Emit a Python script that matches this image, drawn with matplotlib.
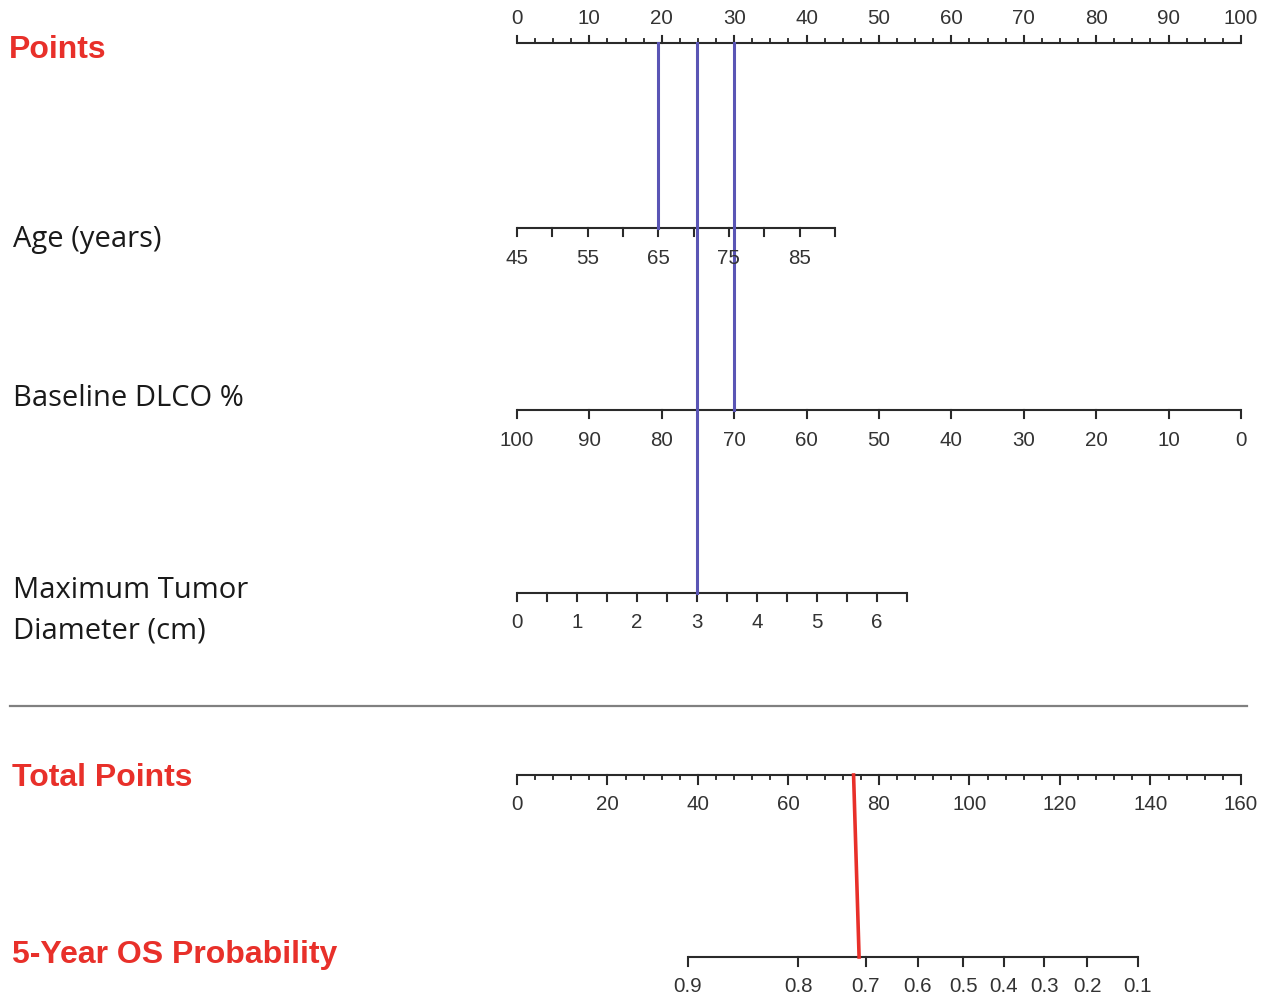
import matplotlib
matplotlib.use("Agg")
import matplotlib.pyplot as plt
import numpy as np

# ---- data ----
points_major = np.arange(0, 101, 10)
points_minor = np.arange(0, 100.1, 2.5)

age_ticks = np.arange(45, 91, 5)
age_labels = [45, 55, 65, 75, 85]
age_pts_max = 43.9          # points given to age 90

dlco_ticks = np.arange(100, -1, -10)

tumor_ticks = np.arange(0, 6.51, 0.5)
tumor_labels = [0, 1, 2, 3, 4, 5, 6]
tumor_pts_per_cm = 8.29

total_major = np.arange(0, 161, 20)
total_minor = np.arange(0, 160.1, 4)
total_max = 160

prob_labels = [0.9, 0.8, 0.7, 0.6, 0.5, 0.4, 0.3, 0.2, 0.1]
prob_total = [37.8, 62.1, 77.1, 88.6, 98.6, 107.6, 116.5, 126.0, 137.2]

patient_age = 65
patient_dlco = 70
patient_tumor = 3
patient_prob = 0.71

# ---- scale functions ----
def age_pts(v):
    return (np.asarray(v, float) - 45) / 45 * age_pts_max

def dlco_pts(v):
    return 100 - np.asarray(v, float)

def tumor_pts(v):
    return np.asarray(v, float) * tumor_pts_per_cm

def total_x(v):
    return np.asarray(v, float) * 100 / total_max

# layout (pixel rows, figure is 1277 x 1001)
W, H = 1277, 1001
px = 7.24        # pixels per point
x0 = 517
y_pts, y_age, y_dlco, y_tum, y_tot, y_prob = 43, 228, 410, 593, 775, 957

fig = plt.figure(figsize=(W / 100, H / 100), dpi=100)
ax = fig.add_axes([0, 0, 1, 1])
ax.set_xlim(-x0 / px, (W - x0) / px)
ax.set_ylim(H, 0)
ax.axis("off")

lw = 1.5
ink = "#2a2a2a"
tick_font = dict(family="Liberation Sans", fontsize=14.8, color="#333333")
red = "#e8302a"
blue = "#5a55b5"


def scale(y, xs_major, xs_minor, lab_x, labs, up, lab_y, big=7, small=4):
    ax.plot([min(xs_major.min(), np.min(xs_minor)), max(xs_major.max(), np.max(xs_minor))],
            [y, y], color=ink, lw=lw, solid_capstyle="butt")
    s = -1 if up else 1
    for x in xs_minor:
        ax.plot([x, x], [y, y + s * small], color=ink, lw=lw * 0.9)
    for x in xs_major:
        ax.plot([x, x], [y, y + s * big], color=ink, lw=lw)
    for x, l in zip(lab_x, labs):
        ax.text(x, lab_y, str(l), ha="center", va="center", **tick_font)


# Points
scale(y_pts, points_major, points_minor, points_major, points_major, True, 19)
# Age
scale(y_age, age_pts(age_ticks), age_pts(age_ticks), age_pts(age_labels), age_labels, False, 258.5, big=8)
# DLCO
scale(y_dlco, dlco_pts(dlco_ticks), dlco_pts(dlco_ticks), dlco_pts(dlco_ticks), dlco_ticks, False, 440.5, big=8)
# Tumor diameter
scale(y_tum, tumor_pts(tumor_ticks), tumor_pts(tumor_ticks), tumor_pts(tumor_labels), tumor_labels, False, 622.5, big=8)
# Total points
scale(y_tot, total_x(total_major), total_x(total_minor), total_x(total_major), total_major, False, 804.5, big=9)
# Probability
pxs = total_x(prob_total)
scale(y_prob, pxs, pxs, pxs, prob_labels, False, 987, big=9)

# separator
ax.plot([(10 - x0) / px, (1247 - x0) / px], [706, 706], color="#808080", lw=1.6)

# patient lines
ax.plot([age_pts(patient_age)] * 2, [y_pts, y_age], color=blue, lw=2.2)
ax.plot([dlco_pts(patient_dlco)] * 2, [y_pts, y_dlco], color=blue, lw=2.2)
ax.plot([tumor_pts(patient_tumor)] * 2, [y_pts, y_tum], color=blue, lw=2.2)
total = float(age_pts(patient_age) + dlco_pts(patient_dlco) + tumor_pts(patient_tumor))
prob_at = np.interp(patient_prob, prob_labels[::-1], prob_total[::-1])
ax.plot([total_x(total), total_x(prob_at)], [y_tot, y_prob], color=red, lw=2.6)

# row labels
lx = (12 - x0) / px
red_font = dict(family="Liberation Sans", fontweight="bold", fontsize=23, color=red,
                ha="left", va="center")
blk_font = dict(family="Open Sans", fontsize=21, color="#1a1a1a", ha="left", va="center")
ax.text((9 - x0) / px, 50, "Points", **red_font)
ax.text(lx, 778, "Total Points", **red_font)
ax.text(lx, 955, "5-Year OS Probability", **red_font)
ax.text((13 - x0) / px, 240, "Age (years)", **blk_font)
ax.text((13 - x0) / px, 398, "Baseline DLCO %", **blk_font)
ax.text((13 - x0) / px, 590, "Maximum Tumor", **blk_font)
ax.text((13 - x0) / px, 631, "Diameter (cm)", **blk_font)

fig.savefig("out.png", dpi=100)
